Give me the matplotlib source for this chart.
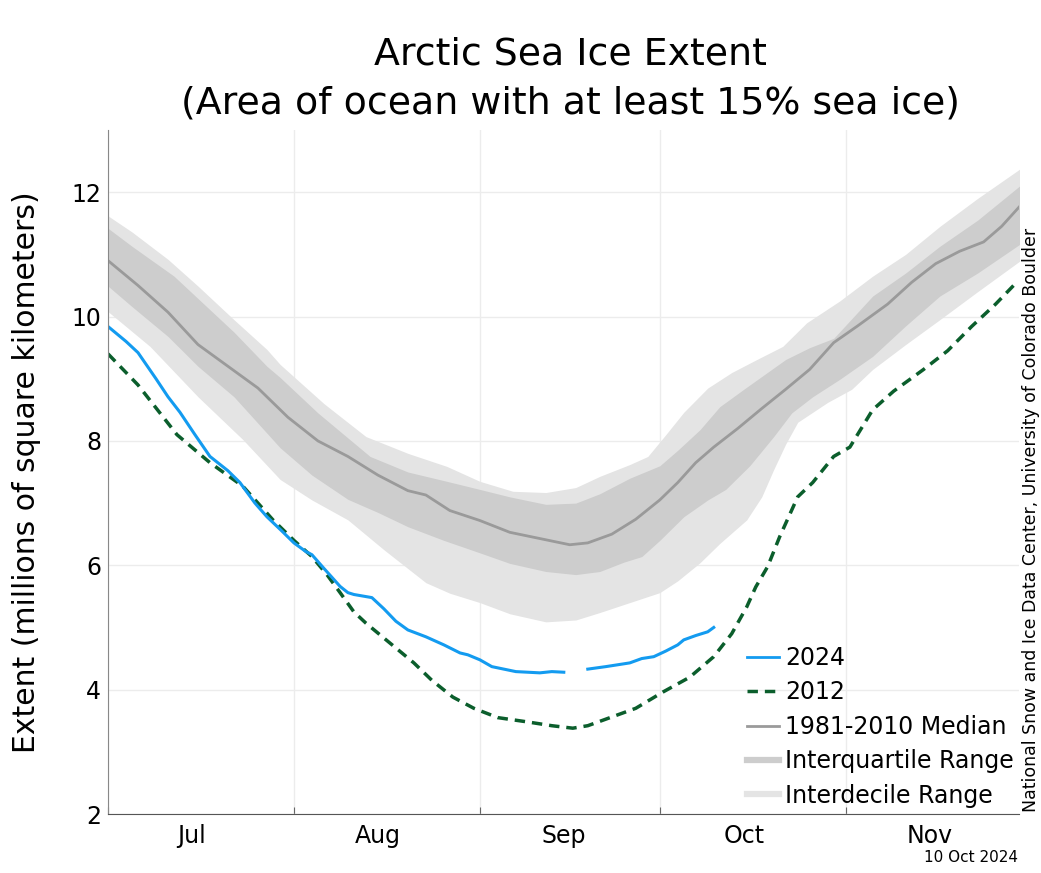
import numpy as np
import matplotlib
matplotlib.use("Agg")
import matplotlib.pyplot as plt
from matplotlib.lines import Line2D

# days counted from 1 Jul
med_day = [0, 5, 10, 15, 20, 25, 30, 35, 40, 45, 50, 53, 57, 62, 67, 72, 77, 80, 84, 88,
           92, 95, 98, 101, 105, 109, 113, 117, 121, 125, 130, 134, 138, 142, 146, 149, 152]
med_val = [10.9, 10.5, 10.07, 9.55, 9.2, 8.85, 8.38, 8.0, 7.75, 7.45, 7.2, 7.13, 6.88, 6.72,
           6.53, 6.43, 6.33, 6.36, 6.5, 6.74, 7.05, 7.33, 7.65, 7.9, 8.2, 8.52, 8.83, 9.15,
           9.58, 9.85, 10.2, 10.55, 10.85, 11.05, 11.2, 11.45, 11.77]

iq_hi_day = [0, 4, 11, 21, 26.5, 28.7, 35, 43.7, 50, 56.5, 62, 67, 73, 78, 82, 87, 92, 95,
             98.7, 102, 106, 113, 117, 121, 127.5, 133, 138.7, 145, 152]
iq_hi_val = [11.42, 11.13, 10.65, 9.75, 9.2, 9.02, 8.45, 7.75, 7.5, 7.35, 7.22, 7.1, 6.98,
             7.0, 7.15, 7.4, 7.6, 7.85, 8.18, 8.55, 8.83, 9.31, 9.5, 9.65, 10.33, 10.7,
             11.13, 11.55, 12.1]
iq_lo_day = [0, 4, 10, 15, 21, 28.7, 34, 40, 45, 50, 56, 62, 67, 73, 78, 82, 86, 89, 92, 96,
             100, 103, 107, 111, 114, 117.5, 122, 127.5, 133, 138.7, 145, 152]
iq_lo_val = [10.49, 10.16, 9.68, 9.2, 8.71, 7.89, 7.45, 7.06, 6.85, 6.62, 6.4, 6.2, 6.03,
             5.9, 5.85, 5.9, 6.05, 6.14, 6.4, 6.78, 7.05, 7.22, 7.6, 8.07, 8.45, 8.71, 8.99,
             9.36, 9.85, 10.33, 10.7, 11.16]

id_hi_day = [0, 4, 10, 15, 21, 26.5, 28.7, 36, 43, 50, 56.5, 62, 67.5, 73, 78, 82, 87, 90,
             93, 96, 100, 104, 108, 112.5, 116.5, 122, 127.5, 133, 138.7, 145, 152]
id_hi_val = [11.62, 11.36, 10.92, 10.49, 9.95, 9.47, 9.23, 8.6, 8.07, 7.8, 7.59, 7.35, 7.19,
             7.17, 7.25, 7.43, 7.62, 7.75, 8.1, 8.46, 8.85, 9.1, 9.3, 9.52, 9.9, 10.25,
             10.65, 11.0, 11.45, 11.9, 12.37]
id_lo_day = [0, 7, 15, 22.5, 28.7, 34, 40, 46, 53, 57, 62, 67, 73, 78, 82, 87, 92, 95, 98.7,
             102, 106.5, 109, 111, 113, 115, 120, 124, 127.5, 133, 138.7, 145, 152]
id_lo_val = [10.08, 9.52, 8.71, 8.02, 7.38, 7.05, 6.73, 6.25, 5.72, 5.55, 5.4, 5.22, 5.09,
             5.12, 5.24, 5.4, 5.56, 5.75, 6.04, 6.35, 6.73, 7.1, 7.54, 7.95, 8.3, 8.62, 8.83,
             9.15, 9.55, 9.95, 10.4, 10.89]

y2024_day = [0, 3, 5, 8, 10, 12, 14.5, 17, 20, 22, 24.5, 26.5, 29, 31, 33, 34, 36, 38.7, 40,
             41, 44, 46, 48, 50, 53, 56, 58.7, 60, 62, 64, 66, 68, 70, 72, 74, 76, 78, 80,
             83, 87, 89, 91, 93, 95, 96, 98, 100, 101]
y2024_val = [9.84, 9.6, 9.42, 9.0, 8.71, 8.46, 8.1, 7.75, 7.52, 7.33, 7.0, 6.78, 6.55, 6.36,
             6.22, 6.17, 5.95, 5.66, 5.56, 5.53, 5.48, 5.3, 5.1, 4.96, 4.85, 4.72, 4.59,
             4.56, 4.48, 4.37, 4.33, 4.29, 4.28, 4.27, 4.29, 4.28, np.nan, 4.33, 4.37, 4.43,
             4.5, 4.53, 4.62, 4.72, 4.8, 4.87, 4.93, 5.0]

y2012_day = [0, 5, 11.5, 17, 22.5, 27.5, 31, 34, 36.5, 38.7, 41, 43, 47, 51, 54, 57.5, 61,
             65, 70, 74, 77.5, 80, 84, 88, 92.5, 97, 101, 104, 106.5, 108, 110, 112, 115,
             117.5, 121, 123.7, 127.5, 131, 136, 140, 144, 148, 151.5]
y2012_val = [9.4, 8.9, 8.1, 7.65, 7.27, 6.73, 6.4, 6.14, 5.85, 5.56, 5.25, 5.07, 4.75, 4.43,
             4.15, 3.88, 3.7, 3.55, 3.48, 3.42, 3.38, 3.42, 3.56, 3.7, 3.96, 4.2, 4.53, 4.9,
             5.33, 5.65, 5.98, 6.46, 7.1, 7.33, 7.75, 7.9, 8.5, 8.8, 9.15, 9.45, 9.84, 10.2,
             10.55]

month_starts = [0, 31, 62, 92, 123]
month_mid = [14, 45, 76, 106, 137]
month_names = ["Jul", "Aug", "Sep", "Oct", "Nov"]

c_blue = "#139bf0"
c_green = "#0b5e2c"
c_med = "#9a9a9a"
c_iq = "#cdcdcd"
c_id = "#e4e4e4"

fig = plt.figure(figsize=(10.41, 8.73), dpi=100)
ax = fig.add_axes([108 / 1041, 59 / 873, 911 / 1041, 684 / 873])

# bands share one day grid for fill_between
grid = np.array(sorted(set(iq_hi_day) | set(iq_lo_day) | set(id_hi_day) | set(id_lo_day)))
ax.fill_between(grid, np.interp(grid, id_lo_day, id_lo_val), np.interp(grid, id_hi_day, id_hi_val),
                color=c_id, lw=0)
ax.fill_between(grid, np.interp(grid, iq_lo_day, iq_lo_val), np.interp(grid, iq_hi_day, iq_hi_val),
                color=c_iq, lw=0)
ax.plot(med_day, med_val, color=c_med, lw=2)
ax.plot(y2012_day, y2012_val, color=c_green, lw=2.5, dashes=(3, 2))
ax.plot(y2024_day, y2024_val, color=c_blue, lw=2.2)

ax.set_xlim(0, 151.9)
ax.set_ylim(2, 13)
ax.set_xticks(month_starts)
ax.set_xticklabels([])
ax.set_xticks(month_mid, minor=True)
ax.set_xticklabels(month_names, minor=True, fontsize=17)
ax.tick_params(axis="x", which="minor", length=0, pad=7)
ax.tick_params(axis="x", which="major", direction="in", length=5, color="#666666")
ax.set_yticks([2, 4, 6, 8, 10, 12])
ax.tick_params(axis="y", direction="in", length=0, labelsize=17, pad=5)
ax.grid(True, which="major", color="#ececec", lw=1)
ax.set_axisbelow(True)
for s in ["top", "right"]:
    ax.spines[s].set_visible(False)
ax.spines["left"].set_color("#888888")
ax.spines["bottom"].set_color("#555555")

ax.set_title("Arctic Sea Ice Extent\n(Area of ocean with at least 15% sea ice)", fontsize=27.3,
             pad=12, linespacing=1.45, x=0.5077)
ax.set_ylabel("Extent (millions of square kilometers)", fontsize=21.5)
ax.yaxis.set_label_coords(-0.073, 0.5)

handles = [
    Line2D([], [], color=c_blue, lw=2),
    Line2D([], [], color=c_green, lw=2.5, dashes=(3, 2)),
    Line2D([], [], color=c_med, lw=2),
    Line2D([], [], color=c_iq, lw=4.5),
    Line2D([], [], color=c_id, lw=4.5),
]
labels = ["2024", "2012", "1981-2010 Median", "Interquartile Range", "Interdecile Range"]
ax.legend(handles, labels, loc="upper left", bbox_to_anchor=(0.7014, 0.2456), frameon=False,
          fontsize=17, handlelength=1.35, handletextpad=0.28, labelspacing=0.44,
          borderpad=0, borderaxespad=0)

fig.text(1031 / 1041, 61 / 873, "National Snow and Ice Data Center, University of Colorado Boulder",
         rotation=90, ha="center", va="bottom", fontsize=12.5)
fig.text(1018 / 1041, 15 / 873, "10 Oct 2024", ha="right", va="center", fontsize=11)

fig.savefig("out.png", dpi=100)
